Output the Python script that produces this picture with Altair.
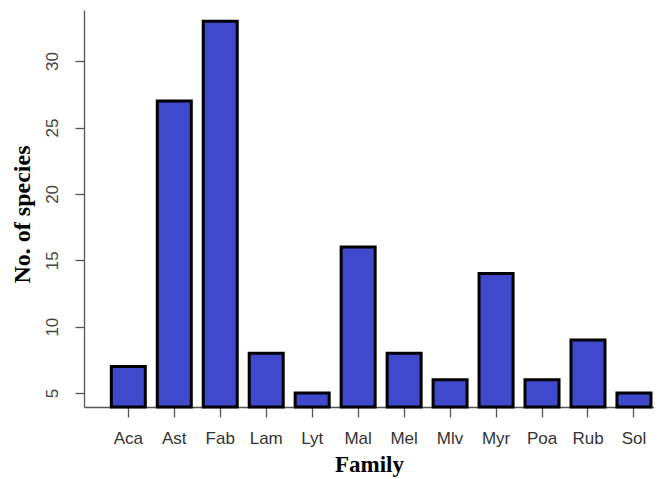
import altair as alt
import pandas as pd

families = ["Aca", "Ast", "Fab", "Lam", "Lyt", "Mal", "Mel", "Mlv", "Myr", "Poa", "Rub", "Sol"]
species = [7, 27, 33, 8, 5, 16, 8, 6, 14, 6, 9, 5]

df = pd.DataFrame({"Family": families, "Species": species})

YMIN, YMAX = 3.95, 33.85

chart = alt.Chart(df).mark_bar(
    color="#4048CC", stroke="black", strokeWidth=3
).encode(
    x=alt.X("Family:N", sort=families,
            scale=alt.Scale(paddingInner=0.26, paddingOuter=0.33, align=0.9),
            axis=alt.Axis(title="Family", labelAngle=0, labelFont="Liberation Sans",
                          labelFontSize=17, labelColor="#333", labelPadding=13,
                          tickSize=10, tickColor="#555", tickWidth=1.3,
                          domainColor="#555", domainWidth=1.3,
                          titleFont="Liberation Serif", titleFontSize=23,
                          titleFontWeight="bold", titleColor="black", titlePadding=7)),
    y=alt.Y("Species:Q",
            scale=alt.Scale(domain=[YMIN, YMAX], zero=False, nice=False),
            axis=alt.Axis(title="No. of species", values=[5, 10, 15, 20, 25, 30],
                          labelAngle=-90, labelAlign="center", labelBaseline="bottom",
                          labelFont="Liberation Sans", labelFontSize=17, labelColor="#444",
                          labelPadding=14, tickSize=9, tickColor="#555", tickWidth=1.3,
                          domainColor="#555", domainWidth=1.3, grid=False,
                          titleFont="Liberation Serif", titleFontSize=24, titleY=204,
                          titleFontWeight="bold", titleColor="black", titlePadding=9)),
    y2=alt.datum(YMIN),
).properties(
    width=570, height=397,
    autosize="none",
    padding={"left": 76, "top": 2, "right": 0, "bottom": 70},
).configure_view(stroke=None)

chart.save("out.html", embed_options={"renderer": "svg", "actions": False})
